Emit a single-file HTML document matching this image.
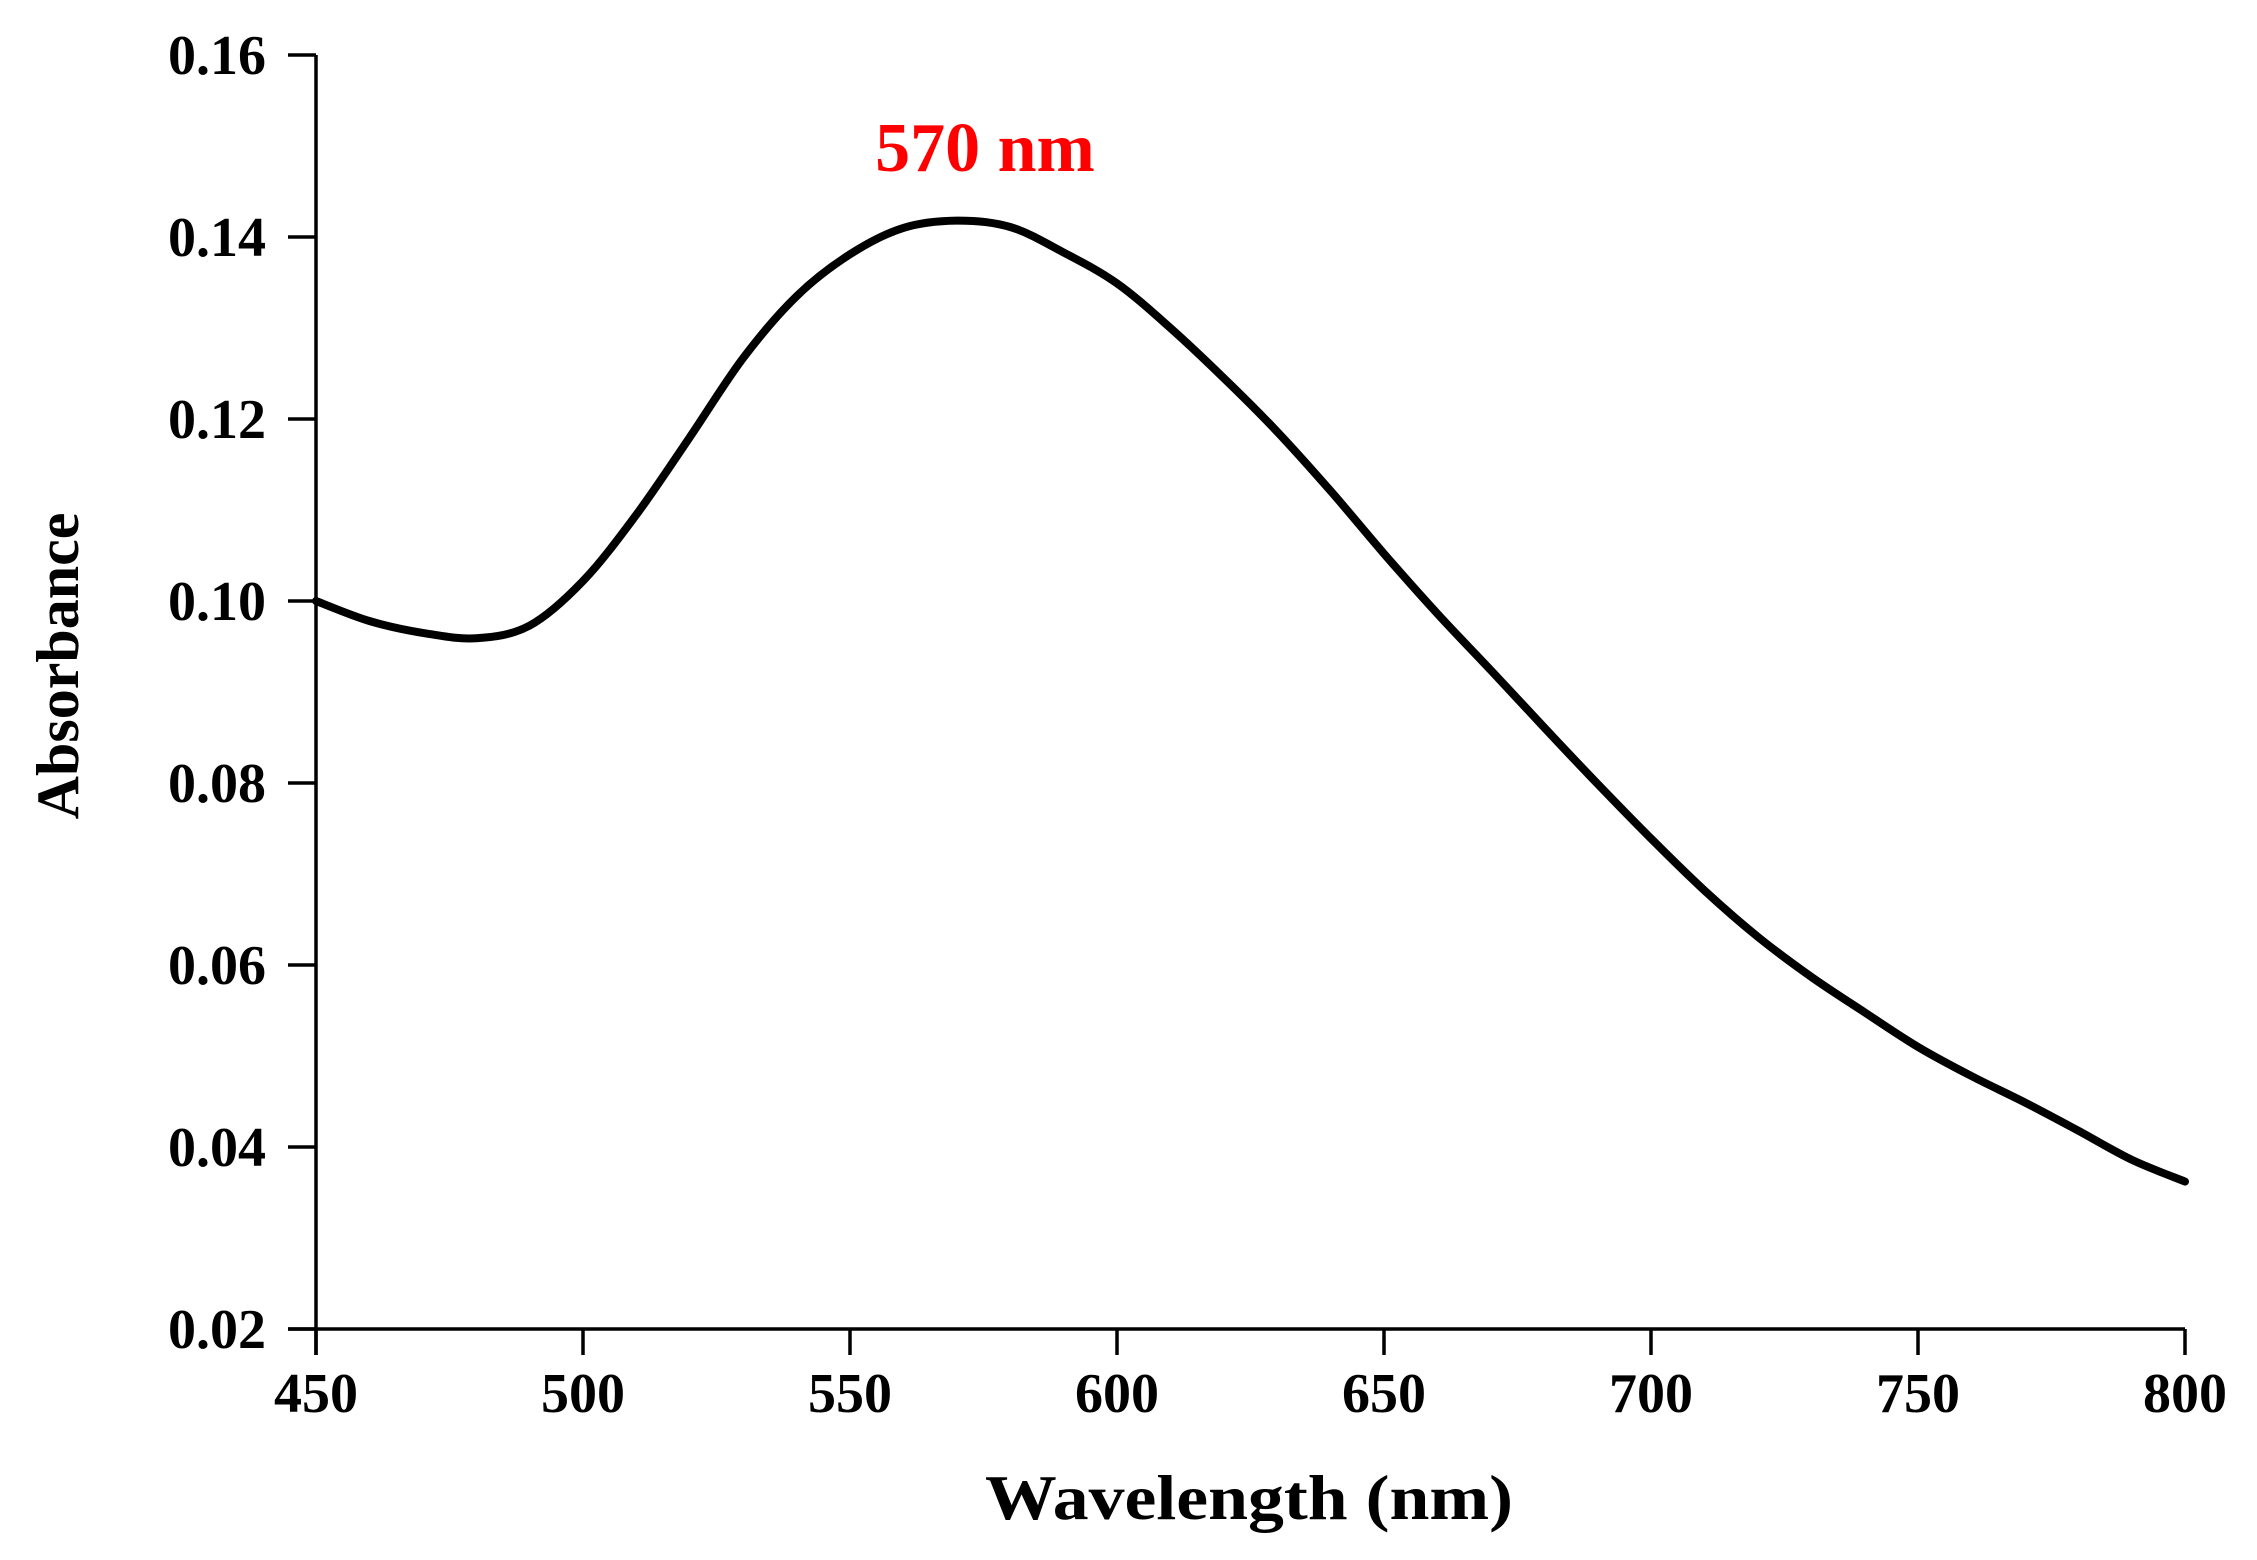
<!DOCTYPE html>
<html><head><meta charset="utf-8"><style>
html,body{margin:0;padding:0;background:#fff;}
svg{display:block;}
text{font-family:"Liberation Serif",serif;font-weight:bold;}
</style></head><body>
<svg id="chart" width="2257" height="1560" viewBox="0 0 2257 1560" xmlns="http://www.w3.org/2000/svg">
<g id="axes"></g>
<path id="curve" fill="none" stroke="#000" stroke-width="8" stroke-linejoin="round" stroke-linecap="round"></path>
<text x="985" y="171" font-size="70" fill="#ff0000" text-anchor="middle">570 nm</text>
<text x="1249" y="1519" font-size="64" text-anchor="middle" textLength="528" lengthAdjust="spacingAndGlyphs">Wavelength (nm)</text>
<text x="0" y="0" font-size="60" text-anchor="middle" transform="translate(78,666) rotate(-90)">Absorbance</text>
</svg>
<script>
const wavelengths = [450,460,470,480,490,500,510,520,530,540,550,560,570,580,590,600,610,620,630,640,650,660,670,680,690,700,710,720,730,740,750,760,770,780,790,800];
const absorbance = [0.1000,0.0978,0.0965,0.0959,0.0973,0.1022,0.1095,0.1180,0.1267,0.1335,0.1381,0.1410,0.1418,0.1411,0.1383,0.1349,0.1300,0.1245,0.1186,0.1121,0.1052,0.0986,0.0924,0.0861,0.0799,0.0739,0.0682,0.0631,0.0587,0.0548,0.0510,0.0478,0.0449,0.0418,0.0386,0.0362];
const xTicks = [450,500,550,600,650,700,750,800];
const yTicks = [0.02,0.04,0.06,0.08,0.10,0.12,0.14,0.16];
const yTickLabels = ["0.02","0.04","0.06","0.08","0.10","0.12","0.14","0.16"];

const X0=316, X1=2185, Y0=1329, Y1=55;
function xs(v){return X0+(v-450)/(800-450)*(X1-X0);}
function ys(v){return Y0-(v-0.02)/(0.16-0.02)*(Y0-Y1);}
const NS="http://www.w3.org/2000/svg";
const axes=document.getElementById('axes');
function mk(tag,attrs,parent){const e=document.createElementNS(NS,tag);for(const k in attrs)e.setAttribute(k,attrs[k]);parent.appendChild(e);return e;}

let yl=mk('line',{x1:X0,y1:Y1,x2:X0,y2:Y0+26,stroke:'#000','stroke-width':3.5},axes);


let xl=mk('line',{x1:X0-28,y1:Y0,x2:X1,y2:Y0,stroke:'#000','stroke-width':3.5},axes);



yTicks.forEach((v,i)=>{
  const y=ys(v);
  const t=mk('line',{x1:X0-28,y1:y,x2:X0,y2:y,stroke:'#000','stroke-width':3.5},axes);
  
  
  const l=mk('text',{x:266,y:y+19,'font-size':56,'text-anchor':'end'},axes);
  l.textContent=yTickLabels[i];
  
  
});
xTicks.forEach(v=>{
  const x=xs(v);
  const t=mk('line',{x1:x,y1:Y0,x2:x,y2:Y0+26,stroke:'#000','stroke-width':3.5},axes);
  
  
  const l=mk('text',{x:x,y:1412,'font-size':56,'text-anchor':'middle'},axes);
  l.textContent=String(v);
  
  
});
const pts=wavelengths.map((w,i)=>[xs(w),ys(absorbance[i])]);
let d='M'+pts[0][0].toFixed(1)+','+pts[0][1].toFixed(1);
for(let i=0;i<pts.length-1;i++){
  const p0=pts[Math.max(0,i-1)],p1=pts[i],p2=pts[i+1],p3=pts[Math.min(pts.length-1,i+2)];
  const c1=[p1[0]+(p2[0]-p0[0])/6,p1[1]+(p2[1]-p0[1])/6];
  const c2=[p2[0]-(p3[0]-p1[0])/6,p2[1]-(p3[1]-p1[1])/6];
  d+='C'+c1[0].toFixed(1)+','+c1[1].toFixed(1)+' '+c2[0].toFixed(1)+','+c2[1].toFixed(1)+' '+p2[0].toFixed(1)+','+p2[1].toFixed(1);
}
document.getElementById('curve').setAttribute('d',d);
</script>
</body></html>
